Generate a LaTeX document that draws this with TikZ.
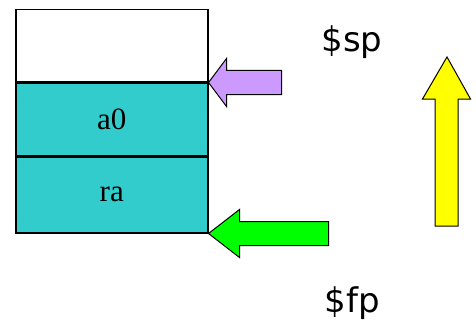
\documentclass[tikz,border=0pt]{standalone}
\usepackage{fontspec}
\setmainfont{Liberation Serif}
\newfontfamily\labelfont{DejaVu Sans}
\usetikzlibrary{positioning}

\definecolor{slotteal}{RGB}{51,204,204}
\definecolor{sparrow}{RGB}{204,153,255}
\definecolor{fparrow}{RGB}{0,255,0}
\definecolor{uparrow}{RGB}{255,255,0}

\begin{document}
\begin{tikzpicture}[x=1pt, y=1pt, line width=1.5pt,
    slot/.style={draw, minimum width=192pt, inner sep=0pt, font=\fontsize{31}{31}\selectfont},
    reg/.style={font=\labelfont\fontsize{34}{34}\selectfont}]
    \useasboundingbox (0,0) rectangle (476,330);
    % stack slots
    \node[slot, minimum height=72pt, anchor=north west] (cellTop) at (15,321) {};
    \node[slot, fill=slotteal, minimum height=72pt, below=0pt of cellTop] (cellA) {a0};
    \node[slot, fill=slotteal, minimum height=76pt, below=0pt of cellA] (cellRa) {ra};
    % register names
    \node[reg] (sp) at (352,288) {\$sp};
    \node[reg] (fp) at (352,27) {\$fp};
    % block arrows
    \draw[fill=sparrow, line width=1pt] (cellA.north east) -- ++(18,24) -- ++(0,-12) -- ++(55,0)
        -- ++(0,-24) -- ++(-55,0) -- ++(0,-12) -- cycle;
    \draw[fill=fparrow, line width=1pt] (cellRa.south east) -- ++(31,24) -- ++(0,-12) -- ++(89,0)
        -- ++(0,-24) -- ++(-89,0) -- ++(0,-12) -- cycle;
    \coordinate (upTip) at (447,273);
    \draw[fill=uparrow, line width=1pt] (upTip) -- ++(-24.5,-42) -- ++(12.5,0) -- ++(0,-127)
        -- ++(23,0) -- ++(0,127) -- ++(12.5,0) -- cycle;
\end{tikzpicture}
\end{document}
